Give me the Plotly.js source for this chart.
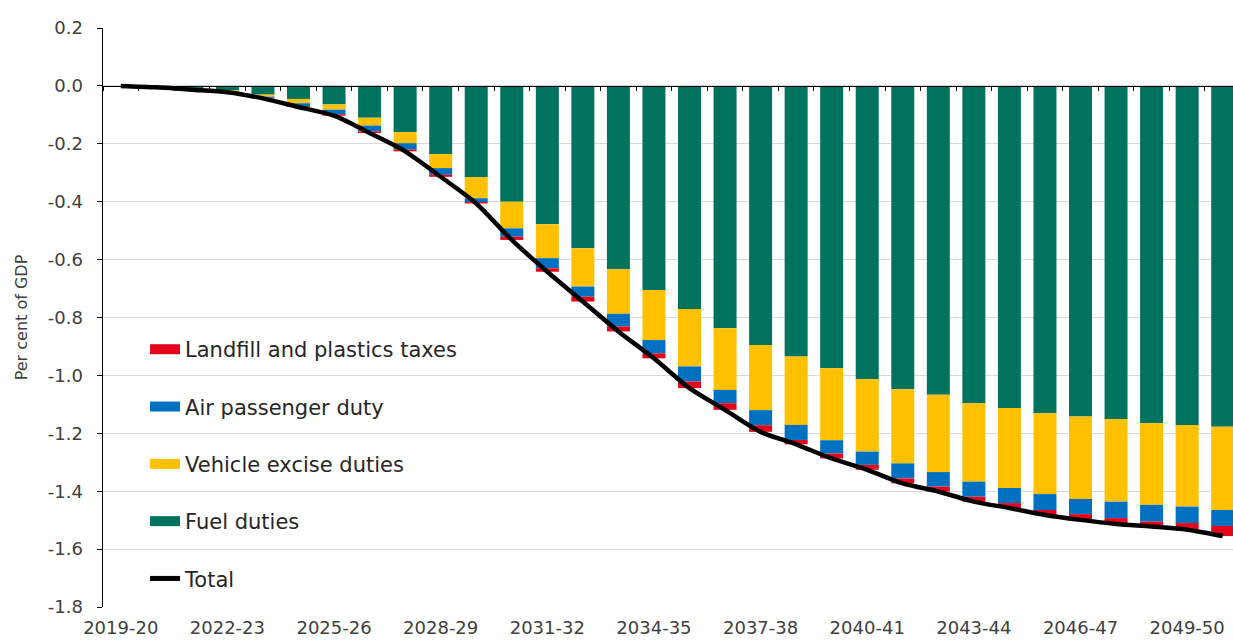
<!DOCTYPE html>
<html>
<head>
<meta charset="utf-8">
<script src="https://cdn.plot.ly/plotly-3.0.1.min.js"></script>
<style>
  html, body { margin: 0; padding: 0; background: #ffffff; overflow: hidden; }
  #chart { width: 1233px; height: 643px; }
</style>
</head>
<body>
<div id="chart"></div>
<script>
const categories = [
  '2019-20','2020-21','2021-22','2022-23','2023-24','2024-25','2025-26','2026-27',
  '2027-28','2028-29','2029-30','2030-31','2031-32','2032-33','2033-34','2034-35',
  '2035-36','2036-37','2037-38','2038-39','2039-40','2040-41','2041-42','2042-43',
  '2043-44','2044-45','2045-46','2046-47','2047-48','2048-49','2049-50','2050-51'
];
const tickLabels = ['2019-20','2022-23','2025-26','2028-29','2031-32','2034-35',
  '2037-38','2040-41','2043-44','2046-47','2049-50'];
const yTickValues = [0.2, 0.0, -0.2, -0.4, -0.6, -0.8, -1.0, -1.2, -1.4, -1.6, -1.8];
const yTickLabels = ['0.2', '0.0', '-0.2', '-0.4', '-0.6', '-0.8', '-1.0', '-1.2', '-1.4', '-1.6', '-1.8'];

const fuelDuties = [0, -0.003, -0.008, -0.015, -0.030, -0.045, -0.064, -0.110,
  -0.160, -0.236, -0.315, -0.400, -0.478, -0.561, -0.633, -0.705,
  -0.771, -0.837, -0.895, -0.935, -0.975, -1.013, -1.048, -1.067,
  -1.096, -1.113, -1.131, -1.142, -1.151, -1.165, -1.171, -1.177];
const vehicleExciseDuties = [0, -0.001, -0.002, -0.003, -0.007, -0.015, -0.018, -0.027,
  -0.038, -0.048, -0.073, -0.092, -0.117, -0.132, -0.154, -0.173,
  -0.198, -0.213, -0.225, -0.236, -0.249, -0.250, -0.256, -0.267,
  -0.271, -0.276, -0.279, -0.285, -0.285, -0.282, -0.282, -0.288];
const airPassengerDuty = [0, -0.001, -0.002, -0.003, -0.004, -0.010, -0.016, -0.020,
  -0.022, -0.023, -0.013, -0.029, -0.035, -0.035, -0.044, -0.046,
  -0.052, -0.046, -0.052, -0.052, -0.046, -0.046, -0.052, -0.050,
  -0.052, -0.052, -0.055, -0.052, -0.057, -0.058, -0.057, -0.055];
const landfillPlasticsTaxes = [0, 0, -0.001, -0.001, -0.002, -0.003, -0.005, -0.006,
  -0.006, -0.007, -0.005, -0.011, -0.012, -0.017, -0.017, -0.017,
  -0.023, -0.023, -0.023, -0.015, -0.017, -0.017, -0.017, -0.017,
  -0.017, -0.017, -0.017, -0.020, -0.020, -0.017, -0.023, -0.035];
const total = [0, -0.005, -0.013, -0.022, -0.043, -0.073, -0.103, -0.163,
  -0.226, -0.314, -0.406, -0.532, -0.642, -0.745, -0.848, -0.941,
  -1.044, -1.119, -1.195, -1.238, -1.287, -1.326, -1.373, -1.401,
  -1.436, -1.458, -1.482, -1.499, -1.513, -1.522, -1.533, -1.555];

const seriesNames = ['Fuel duties','Vehicle excise duties','Air passenger duty','Landfill and plastics taxes'];
const seriesColors = ['#00735E','#FFC000','#0070C0','#E3061B'];
const seriesValues = [fuelDuties, vehicleExciseDuties, airPassengerDuty, landfillPlasticsTaxes];

const traces = [];
// stacked bars (first is nearest zero)
seriesValues.forEach((vals, k) => {
  traces.push({
    type: 'bar', x: categories, y: vals, name: seriesNames[k],
    marker: { color: seriesColors[k], line: { width: 0 } },
    showlegend: false, hoverinfo: 'x+y+name'
  });
});
// total line
traces.push({
  type: 'scatter', mode: 'lines', x: categories, y: total, name: 'Total',
  line: { color: '#000000', width: 4.5, shape: 'spline', smoothing: 0.8 },
  showlegend: false
});
// legend entries (wide swatches), in legend order
[3, 2, 1, 0].forEach((k, j) => {
  traces.push({
    type: 'scatter', mode: 'lines', x: [categories[0]], y: [null], name: seriesNames[k],
    line: { color: seriesColors[k], width: 11 }, legendgroup: 'g' + j, hoverinfo: 'skip'
  });
});
traces.push({
  type: 'scatter', mode: 'lines', x: [categories[0]], y: [null], name: 'Total',
  line: { color: '#000000', width: 5 }, legendgroup: 'g4', hoverinfo: 'skip'
});
// carrier for the zero-line axis with boundary ticks
traces.push({
  type: 'scatter', mode: 'lines', x: categories, y: categories.map(() => null),
  xaxis: 'x2', showlegend: false, hoverinfo: 'skip'
});

const xRange = [-0.5, 31.29];
const fontFamily = 'DejaVu Sans, sans-serif';

const layout = {
  width: 1233, height: 643,
  margin: { l: 103, r: 0, t: 28, b: 36, pad: 0 },
  paper_bgcolor: '#ffffff', plot_bgcolor: '#ffffff',
  barmode: 'relative', bargap: 0.353,
  font: { family: fontFamily, color: '#404040' },
  showlegend: true,
  legend: {
    x: 0.0372, xanchor: 'left', y: 0.48, yanchor: 'top',
    bgcolor: 'rgba(0,0,0,0)', borderwidth: 0,
    font: { family: fontFamily, size: 21, color: '#262626' },
    traceorder: 'grouped', tracegroupgap: 27
  },
  xaxis: {
    type: 'category', categoryorder: 'array', categoryarray: categories,
    range: xRange, fixedrange: true,
    showgrid: false, zeroline: false, showline: false,
    ticks: '', tickmode: 'array', tickvals: tickLabels, ticktext: tickLabels,
    tickfont: { family: fontFamily, size: 18, color: '#404040' },
    ticklabelstandoff: 8
  },
  xaxis2: {
    type: 'category', categoryorder: 'array', categoryarray: categories,
    overlaying: 'x', anchor: 'free', position: 0.9, side: 'bottom',
    range: xRange, fixedrange: true,
    showgrid: false, zeroline: false, showline: true, linecolor: '#000000', linewidth: 1.5,
    ticks: 'outside', ticklen: 4, tickwidth: 1, tickcolor: '#000000',
    tickson: 'boundaries', dtick: 1, showticklabels: false
  },
  yaxis: {
    range: [-1.8, 0.2], fixedrange: true,
    tickmode: 'array', tickvals: yTickValues, ticktext: yTickLabels,
    showgrid: true, gridcolor: '#d9d9d9', gridwidth: 1,
    zeroline: false,
    showline: true, linecolor: '#000000', linewidth: 1.5,
    ticks: 'outside', ticklen: 5, tickcolor: '#000000', tickwidth: 1,
    tickfont: { family: fontFamily, size: 18, color: '#404040' },
    ticklabelstandoff: 10,
    title: { text: 'Per cent of GDP', font: { family: fontFamily, size: 16, color: '#404040' }, standoff: 16 }
  }
};

Plotly.newPlot('chart', traces, layout, { displayModeBar: false, staticPlot: true });
</script>
</body>
</html>
